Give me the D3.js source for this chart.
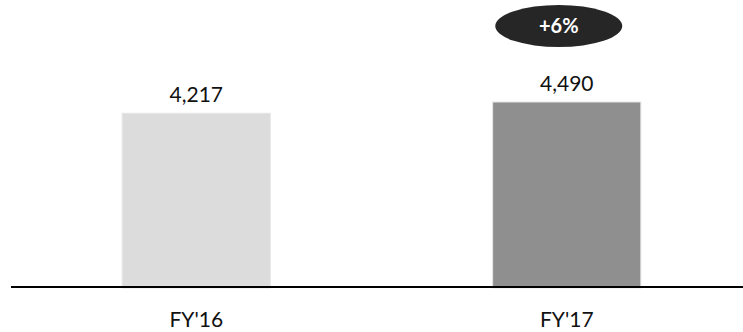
<!DOCTYPE html>
<html>
<head>
<meta charset="utf-8">
<script src="https://cdn.jsdelivr.net/npm/d3@7"></script>
<style>
  html, body { margin: 0; padding: 0; background: #fff; }
  svg { display: block; }
  text { font-family: Lato, "Open Sans", sans-serif; }
</style>
</head>
<body>
<svg id="chart" width="743" height="332"></svg>
<script>
// Revenue by fiscal year
const categories = ["FY'16", "FY'17"];
const values = [4217, 4490];
const valueLabels = ["4,217", "4,490"];
const barColors = ["#dcdcdc", "#8f8f8f"];
const growthLabel = "+6%";

const W = 743, H = 332;
const baseY = 287;

const svg = d3.select("#chart");

const x = d3.scaleBand()
  .domain(categories)
  .range([11, 752])
  .paddingInner(0.6)
  .paddingOuter(0.3);

const y = d3.scaleLinear()
  .domain([0, 4490])
  .range([baseY, 102]);

// bars
svg.selectAll("rect.bar")
  .data(values)
  .join("rect")
  .attr("class", "bar")
  .attr("x", (d, i) => x(categories[i]))
  .attr("y", d => y(d))
  .attr("width", x.bandwidth())
  .attr("height", d => y(0) - y(d) + 1)
  .attr("fill", (d, i) => barColors[i])
  .attr("stroke", "#e6e6e6")
  .attr("stroke-width", 1);

// value labels
svg.selectAll("text.val")
  .data(values)
  .join("text")
  .attr("class", "val")
  .attr("x", (d, i) => x(categories[i]) + x.bandwidth() / 2)
  .attr("y", d => y(d) - 11)
  .attr("text-anchor", "middle")
  .attr("font-size", 21)
  .attr("fill", "#111")
  .text((d, i) => valueLabels[i]);

// baseline
svg.append("line")
  .attr("x1", 11).attr("x2", W)
  .attr("y1", baseY).attr("y2", baseY)
  .attr("stroke", "#000")
  .attr("stroke-width", 2);

// category axis
const xAxis = d3.axisBottom(x).tickSize(0).tickPadding(0);
const gx = svg.append("g")
  .attr("transform", `translate(0,${baseY})`)
  .call(xAxis);
gx.select(".domain").remove();
gx.selectAll("text")
  .attr("font-family", "Lato, 'Open Sans', sans-serif")
  .attr("font-size", 21)
  .attr("fill", "#111")
  .attr("dy", null)
  .attr("y", 40);

// growth bubble
const cx = x(categories[1]) + x.bandwidth() / 2 - 8;
const cy = 26;
svg.append("ellipse")
  .attr("cx", cx).attr("cy", cy)
  .attr("rx", 63.5).attr("ry", 21)
  .attr("fill", "#262626");
svg.append("text")
  .attr("x", cx).attr("y", cy + 7)
  .attr("text-anchor", "middle")
  .attr("font-size", 20)
  .attr("font-weight", "bold")
  .attr("fill", "#fff")
  .text(growthLabel);
</script>
</body>
</html>
